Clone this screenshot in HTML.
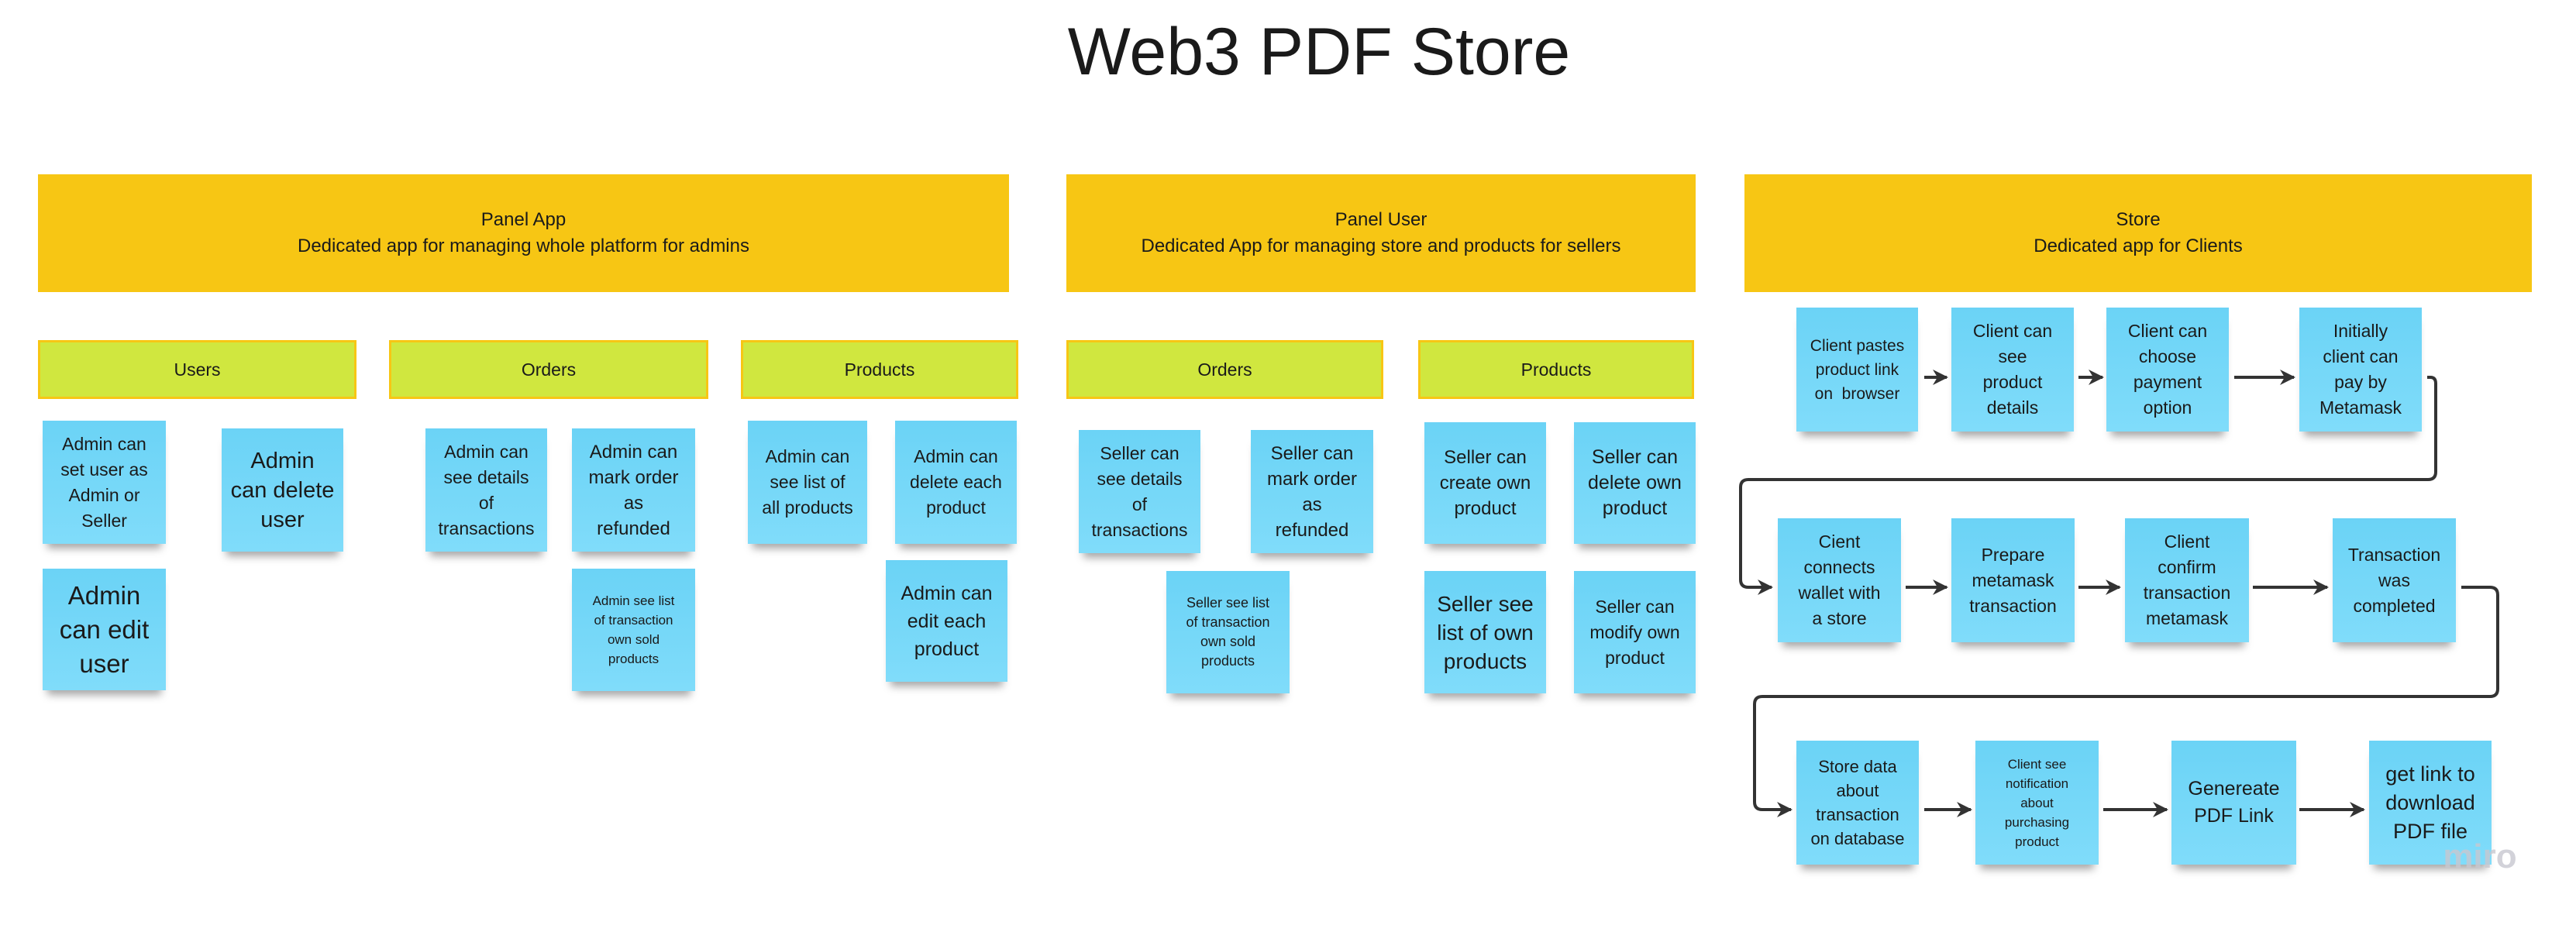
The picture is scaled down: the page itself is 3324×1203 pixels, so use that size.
<!DOCTYPE html>
<html><head><meta charset="utf-8"><style>
body{margin:0;width:3324px;height:1203px;background:#fff;position:relative;overflow:hidden;font-family:"Liberation Sans",sans-serif;color:#1a1a1a}
.t{position:absolute;left:40px;width:3324px;top:18px;text-align:center;font-size:86px;color:#1a1a1a}
.y{position:absolute;background:#f7c614;display:flex;flex-direction:column;justify-content:center;align-items:center;font-size:24px;line-height:34px;text-align:center}
.g{position:absolute;background:#d0e73f;border:3px solid #f7c614;box-sizing:border-box;display:flex;align-items:center;justify-content:center;font-size:23px}
.s{position:absolute;background:linear-gradient(#6bd3f6,#80dcfa);display:flex;align-items:center;justify-content:center;text-align:center;box-sizing:border-box;white-space:nowrap;box-shadow:0 12px 10px -6px rgba(0,0,0,0.35);font-size:23px;line-height:33px}
svg{position:absolute;left:0;top:0}
</style></head><body>
<div class="t">Web3 PDF Store</div>

<div class="y" style="left:49px;top:225px;width:1253px;height:152px"><div>Panel App</div><div>Dedicated app for managing whole platform for admins</div></div>
<div class="y" style="left:1376px;top:225px;width:812px;height:152px"><div>Panel User</div><div>Dedicated App for managing store and products for sellers</div></div>
<div class="y" style="left:2251px;top:225px;width:1016px;height:152px"><div>Store</div><div>Dedicated app for Clients</div></div>

<div class="g" style="left:49px;top:439px;width:411px;height:76px">Users</div>
<div class="g" style="left:502px;top:439px;width:412px;height:76px">Orders</div>
<div class="g" style="left:956px;top:439px;width:358px;height:76px">Products</div>
<div class="g" style="left:1376px;top:439px;width:409px;height:76px">Orders</div>
<div class="g" style="left:1830px;top:439px;width:356px;height:76px">Products</div>

<div class="s" style="left:55px;top:543px;width:159px;height:159px">Admin can<br>set user as<br>Admin or<br>Seller</div>
<div class="s" style="left:286px;top:553px;width:157px;height:159px;font-size:29px;line-height:38px">Admin<br>can delete<br>user</div>
<div class="s" style="left:55px;top:734px;width:159px;height:157px;font-size:33px;line-height:44px">Admin<br>can edit<br>user</div>
<div class="s" style="left:549px;top:553px;width:157px;height:159px">Admin can<br>see details<br>of<br>transactions</div>
<div class="s" style="left:738px;top:553px;width:159px;height:159px;font-size:24px">Admin can<br>mark order<br>as<br>refunded</div>
<div class="s" style="left:738px;top:734px;width:159px;height:158px;font-size:17px;line-height:25px">Admin see list<br>of transaction<br>own sold<br>products</div>
<div class="s" style="left:965px;top:543px;width:154px;height:159px">Admin can<br>see list of<br>all products</div>
<div class="s" style="left:1155px;top:543px;width:157px;height:159px">Admin can<br>delete each<br>product</div>
<div class="s" style="left:1143px;top:723px;width:157px;height:157px;font-size:25px;line-height:36px">Admin can<br>edit each<br>product</div>

<div class="s" style="left:1392px;top:555px;width:157px;height:159px">Seller can<br>see details<br>of<br>transactions</div>
<div class="s" style="left:1614px;top:555px;width:158px;height:159px;font-size:24px">Seller can<br>mark order<br>as<br>refunded</div>
<div class="s" style="left:1505px;top:737px;width:159px;height:158px;font-size:18px;line-height:25px">Seller see list<br>of transaction<br>own sold<br>products</div>
<div class="s" style="left:1838px;top:545px;width:157px;height:157px;font-size:24px">Seller can<br>create own<br>product</div>
<div class="s" style="left:2031px;top:545px;width:157px;height:157px;font-size:25px">Seller can<br>delete own<br>product</div>
<div class="s" style="left:1838px;top:737px;width:157px;height:158px;font-size:28px;line-height:37px">Seller see<br>list of own<br>products</div>
<div class="s" style="left:2031px;top:737px;width:157px;height:158px">Seller can<br>modify own<br>product</div>

<div class="s" style="left:2318px;top:397px;width:157px;height:160px;font-size:21px;line-height:31px">Client pastes<br>product link<br>on &nbsp;browser</div>
<div class="s" style="left:2518px;top:397px;width:158px;height:160px">Client can<br>see<br>product<br>details</div>
<div class="s" style="left:2718px;top:397px;width:158px;height:160px">Client can<br>choose<br>payment<br>option</div>
<div class="s" style="left:2967px;top:397px;width:158px;height:160px">Initially<br>client can<br>pay by<br>Metamask</div>
<div class="s" style="left:2294px;top:669px;width:159px;height:160px">Cient<br>connects<br>wallet with<br>a store</div>
<div class="s" style="left:2518px;top:669px;width:159px;height:160px">Prepare<br>metamask<br>transaction</div>
<div class="s" style="left:2742px;top:669px;width:160px;height:160px">Client<br>confirm<br>transaction<br>metamask</div>
<div class="s" style="left:3010px;top:669px;width:159px;height:160px">Transaction<br>was<br>completed</div>
<div class="s" style="left:2318px;top:956px;width:158px;height:160px;font-size:22px;line-height:31px">Store data<br>about<br>transaction<br>on database</div>
<div class="s" style="left:2549px;top:956px;width:159px;height:160px;font-size:17px;line-height:25px">Client see<br>notification<br>about<br>purchasing<br>product</div>
<div class="s" style="left:2802px;top:956px;width:161px;height:160px;font-size:25px;line-height:35px">Genereate<br>PDF Link</div>
<div class="s" style="left:3057px;top:956px;width:158px;height:160px;font-size:27px;line-height:37px">get link to<br>download<br>PDF file</div>

<svg width="3324" height="1203">
<defs><marker id="a" viewBox="0 0 10 10" refX="9" refY="5" markerWidth="5" markerHeight="5" orient="auto"><path d="M0,0 L10,5 L0,10 L3,5 z" fill="#333"/></marker></defs>
<g stroke="#333" stroke-width="4" fill="none" marker-end="url(#a)">
<line x1="2483" y1="487" x2="2512" y2="487"/>
<line x1="2682" y1="487" x2="2713" y2="487"/>
<line x1="2883" y1="487" x2="2960" y2="487"/>
<path d="M3132,487 L3136,487 Q3143,487 3143,495 L3143,609 Q3143,619 3133,619 L2256,619 Q2246,619 2246,629 L2246,748 Q2246,758 2256,758 L2286,758"/>
<line x1="2459" y1="758" x2="2512" y2="758"/>
<line x1="2682" y1="758" x2="2735" y2="758"/>
<line x1="2907" y1="758" x2="3003" y2="758"/>
<path d="M3176,758 L3213,758 Q3223,758 3223,768 L3223,889 Q3223,899 3213,899 L2274,899 Q2264,899 2264,909 L2264,1035 Q2264,1045 2274,1045 L2311,1045"/>
<line x1="2483" y1="1045" x2="2543" y2="1045"/>
<line x1="2714" y1="1045" x2="2796" y2="1045"/>
<line x1="2967" y1="1045" x2="3050" y2="1045"/>
</g>
<text x="3200" y="1120" text-anchor="middle" font-family="Liberation Sans,sans-serif" font-size="44" font-weight="bold" fill="#c8c8d0" opacity="0.8">miro</text>
</svg>
</body></html>
